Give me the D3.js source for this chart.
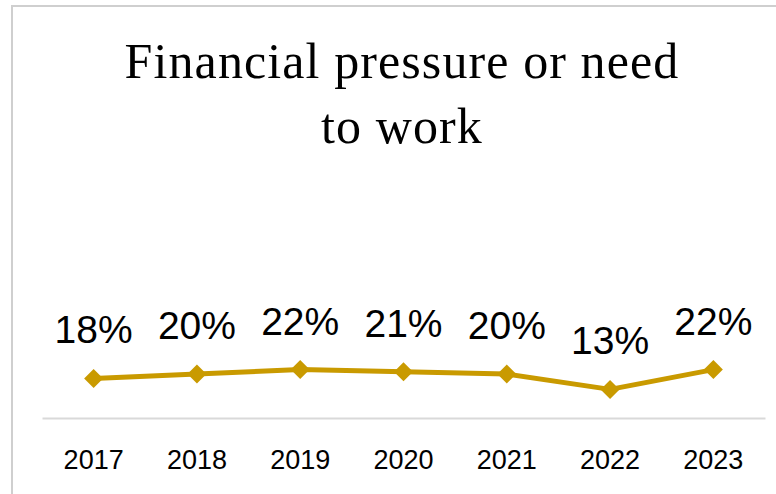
<!DOCTYPE html>
<html>
<head>
<meta charset="utf-8">
<script src="https://cdn.jsdelivr.net/npm/d3@7"></script>
<style>
  html, body { margin: 0; padding: 0; background: #fff; }
  svg { display: block; }
</style>
</head>
<body>
<svg id="chart" width="776" height="494"></svg>
<script>
const years = ["2017", "2018", "2019", "2020", "2021", "2022", "2023"];
const values = [0.18, 0.20, 0.22, 0.21, 0.20, 0.13, 0.22];
const titleLines = ["Financial pressure or need", "to work"];

const W = 776, H = 494;
const svg = d3.select("#chart");

// chart frame
svg.append("rect")
  .attr("x", 12).attr("y", 6)
  .attr("width", W + 20).attr("height", H + 20)
  .attr("fill", "#fff")
  .attr("stroke", "#cfcfcf")
  .attr("stroke-width", 2);

// title
const title = svg.append("text")
  .attr("text-anchor", "middle")
  .attr("font-family", "'Liberation Serif', 'Times New Roman', serif")
  .attr("font-size", 50)
  .attr("letter-spacing", 1.1)
  .attr("fill", "#000");
titleLines.forEach((t, i) => {
  title.append("tspan").attr("x", 402).attr("y", 78 + i * 65).text(t);
});

const plot = { left: 42, right: 765, top: 198, bottom: 418 };

const x = d3.scaleBand().domain(years).range([plot.left, plot.right]);
const y = d3.scaleLinear().domain([0, 1]).range([plot.bottom, plot.top]);

// category axis
const axis = d3.axisBottom(x).tickSize(0).tickPadding(0);
const gAxis = svg.append("g")
  .attr("transform", `translate(0,${plot.bottom})`)
  .call(axis);
gAxis.select(".domain")
  .attr("stroke", "#d9d9d9")
  .attr("stroke-width", 2);
gAxis.selectAll(".tick text")
  .attr("y", 0)
  .attr("dy", 51)
  .attr("font-family", "'Liberation Sans', Arial, sans-serif")
  .attr("font-size", 27)
  .attr("fill", "#000");

const cx = d => x(d) + x.bandwidth() / 2;
const data = years.map((yr, i) => ({ yr, v: values[i] }));

// line
const line = d3.line().x(d => cx(d.yr)).y(d => y(d.v));
svg.append("path")
  .datum(data)
  .attr("d", line)
  .attr("fill", "none")
  .attr("stroke", "#C99A00")
  .attr("stroke-width", 5)
  .attr("stroke-linejoin", "round");

// markers
svg.selectAll(".marker")
  .data(data)
  .enter().append("path")
  .attr("class", "marker")
  .attr("d", d3.symbol().type(d3.symbolDiamond2).size(230))
  .attr("transform", d => `translate(${cx(d.yr)},${y(d.v)})`)
  .attr("fill", "#C99A00");

// data labels
const fmt = d3.format(".0%");
svg.selectAll(".lbl")
  .data(data)
  .enter().append("text")
  .attr("class", "lbl")
  .attr("x", d => cx(d.yr))
  .attr("y", d => y(d.v) - 35)
  .attr("text-anchor", "middle")
  .attr("font-family", "'Liberation Sans', Arial, sans-serif")
  .attr("font-size", 39)
  .attr("fill", "#000")
  .text(d => fmt(d.v));
</script>
</body>
</html>
